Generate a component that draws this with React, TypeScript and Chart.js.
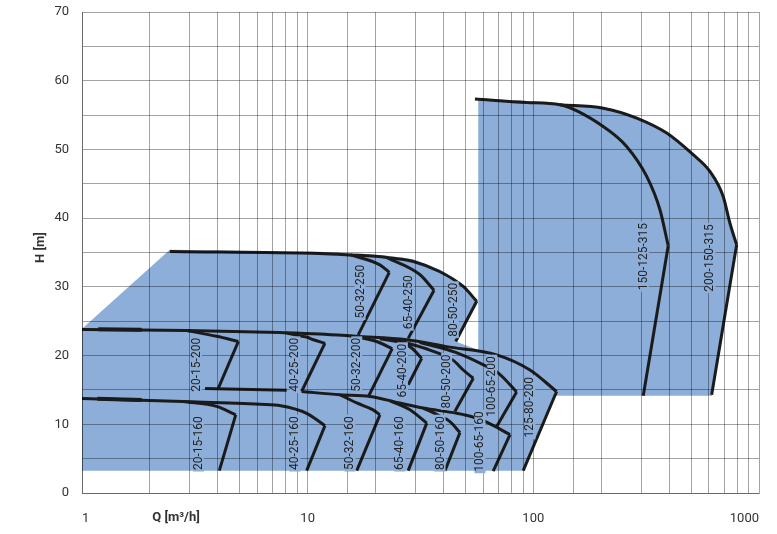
import React, { useEffect, useRef } from 'react';
import { Chart, registerables } from 'chart.js';

Chart.register(...registerables);

type Pt = [number, number];

// ---------- axis ticks ----------
const X_TICK_LABELS = [1, 10, 100, 1000];
const Y_TICK_LABELS = [0, 10, 20, 30, 40, 50, 60, 70];

// ---------- blue operating envelopes (Q m3/h, H m) ----------
const AREA_SMALL: Pt[] = [
  [1, 3.25], [1, 23.9], [2.45, 35.4], [11.3, 35.1], [17.6, 34.8], [23.2, 34.5],
  [29.4, 34.0], [38.6, 32.5], [48.9, 30.35], [57, 27.9], [45.3, 22.05], [57, 20.8],
  [68.8, 20.3], [96.6, 18.1], [127.5, 14.8], [90.5, 3.25],
];
const AREA_LARGE: Pt[] = [
  [57, 14.15], [57, 57.4], [93.4, 57.0], [131, 56.7], [204, 56.2], [287, 54.8],
  [390, 52.6], [511, 49.4], [606, 47.0], [694, 43.3], [743, 39.4], [800, 36.1], [619, 14.15],
];

// ---------- 250 family ----------
const HEAD_80_50_250: Pt[] = [
  [2.45, 35.15], [11.3, 34.85], [15.5, 34.65], [20, 34.45], [23.2, 34.2], [29.4, 33.7],
  [38.6, 32.2], [48.9, 30.06], [56.1, 27.9],
];
const DROP_80_50_250: Pt[] = [[56.1, 27.9], [45.3, 22.05]];
const HEAD_50_32_250: Pt[] = [[15.5, 34.65], [20.9, 33.2], [23.0, 32.1]];
const DROP_50_32_250: Pt[] = [[23.0, 32.1], [16.75, 23.0]];
const HEAD_65_40_250: Pt[] = [[22.5, 34.25], [31.4, 31.8], [36.3, 29.5]];
const DROP_65_40_250: Pt[] = [[36.3, 29.5], [27.9, 22.5]];

// ---------- 200 family ----------
const HEAD_125_80_200: Pt[] = [
  [1, 23.8], [2.91, 23.65], [7.5, 23.35], [11.3, 23.15], [16.5, 22.8], [27.5, 22.3],
  [41.3, 21.3], [68.8, 20.1], [96.6, 17.9], [126.8, 14.77],
];
const DROP_125_80_200: Pt[] = [[126.8, 14.77], [90.2, 3.25]];
const HEAD_20_15_200: Pt[] = [[2.91, 23.65], [3.95, 22.8], [4.93, 22.05]];
const DROP_20_15_200: Pt[] = [[4.93, 22.05], [4.02, 15.27]];
const BASE_200: Pt[] = [[3.51, 15.2], [8.07, 14.95]];
const HEAD_40_25_200: Pt[] = [[8.0, 23.3], [8.8, 23.0], [9.9, 22.7], [10.6, 22.3], [11.93, 21.8]];
const DROP_40_25_200: Pt[] = [[11.93, 21.8], [9.4, 14.77]];
const HEAD_50_32_200: Pt[] = [[15.5, 22.85], [20.2, 22.05], [23.7, 21.0]];
const DROP_50_32_200: Pt[] = [[23.7, 21.0], [18.7, 14.2]];
const HEAD_65_40_200: Pt[] = [[20.9, 22.45], [26.5, 21.8], [28.9, 21.1], [32.0, 19.6]];
const DROP_65_40_200: Pt[] = [[32.0, 19.6], [27.9, 15.75]];
const HEAD_80_50_200: Pt[] = [[24.4, 22.3], [34.8, 20.8], [44.2, 19.3], [48.9, 17.9], [54.2, 16.7]];
const DROP_80_50_200: Pt[] = [[54.2, 16.7], [44.9, 11.86]];
const HEAD_100_65_200: Pt[] = [[31.4, 21.9], [45, 20.5], [58, 18.9], [70, 17.45], [84.3, 14.7]];
const DROP_100_65_200: Pt[] = [[84.3, 14.7], [68.8, 9.68]];

// ---------- 160 family ----------
const HEAD_40_25_160: Pt[] = [[1, 13.75], [2.81, 13.3], [6.15, 12.9], [7.6, 12.7], [9.9, 11.6], [11.93, 9.8]];
const DROP_40_25_160: Pt[] = [[11.93, 9.8], [9.9, 3.25]];
const HEAD_20_15_160: Pt[] = [[2.81, 13.3], [3.95, 12.6], [4.8, 11.38]];
const DROP_20_15_160: Pt[] = [[4.8, 11.38], [4.06, 3.25]];
const HEAD_100_65_160: Pt[] = [
  [9.4, 14.77], [13.9, 14.3], [18.9, 14.05], [25.6, 13.1], [32.5, 12.36], [45.7, 11.6],
  [53.5, 11.1], [62.1, 10.3], [78.8, 8.5],
];
const DROP_100_65_160: Pt[] = [[78.8, 8.5], [66.4, 3.2]];
const HEAD_50_32_160: Pt[] = [[13.9, 14.3], [16.5, 13.1], [19.5, 12.1], [20.9, 11.38]];
const DROP_50_32_160: Pt[] = [[20.9, 11.38], [16.5, 3.25]];
const HEAD_65_40_160: Pt[] = [[23.2, 13.4], [28.4, 12.12], [33.7, 10.17]];
const DROP_65_40_160: Pt[] = [[33.7, 10.17], [27.9, 3.25]];
const HEAD_80_50_160: Pt[] = [[32.5, 12.36], [38, 11.3], [42.7, 10.4], [47.3, 8.8]];
const DROP_80_50_160: Pt[] = [[47.3, 8.8], [40.6, 3.25]];

// ---------- 315 family ----------
const HEAD_150_125_315: Pt[] = [
  [55.1, 57.34], [93.4, 56.84], [131.2, 56.5], [204, 53.35], [259, 50.44], [318, 46.07],
  [364, 41.22], [396, 35.98],
];
const DROP_150_125_315: Pt[] = [[396, 35.98], [307, 14.15]];
const HEAD_200_150_315: Pt[] = [
  [131.2, 56.5], [204, 56.0], [287, 54.57], [390, 52.39], [511, 49.23], [606, 46.8],
  [694, 43.16], [743, 39.29], [796, 36.13],
];
const DROP_200_150_315: Pt[] = [[796, 36.13], [617, 14.3]];

// overlapping (slightly thicker) start segments
const THICK_200: Pt[] = [[1.18, 23.82], [1.84, 23.76]];
const THICK_160: Pt[] = [[1.17, 13.72], [1.84, 13.55]];

// ---------- pump labels ----------
const PUMP_NAMES = [
  '20-15-200', '40-25-200', '20-15-160', '40-25-160', '50-32-250', '65-40-250', '80-50-250',
  '50-32-200', '65-40-200', '80-50-200', '100-65-200', '125-80-200', '50-32-160', '65-40-160',
  '80-50-160', '100-65-160', '150-125-315', '200-150-315',
];
const PUMP_LABEL_Q = [3.22, 8.78, 3.28, 8.78, 17.06, 27.9, 44.2, 16.5, 26.3, 41.3, 65.4, 96.6, 15.4, 25.6, 38.6, 58.0, 307, 606];
const PUMP_LABEL_H = [18.66, 18.66, 7.26, 7.26, 29.3, 27.76, 26.67, 18.66, 17.8, 16.23, 15.5, 12.47, 7.26, 7.26, 7.26, 7.5, 34.4, 34.2];

const FILL = '#8DAED8';
const INK = '#1b1b1b';
const GRID = 'rgba(0,0,0,0.36)';
const TEXT = '#333333';

const CURVES: Pt[][] = [
  HEAD_80_50_250, HEAD_50_32_250, HEAD_65_40_250,
  HEAD_125_80_200, HEAD_20_15_200, HEAD_40_25_200, HEAD_50_32_200, HEAD_65_40_200, HEAD_80_50_200, HEAD_100_65_200,
  HEAD_40_25_160, HEAD_20_15_160, HEAD_100_65_160, HEAD_50_32_160, HEAD_65_40_160, HEAD_80_50_160,
  HEAD_150_125_315, HEAD_200_150_315,
];
const STRAIGHTS: Pt[][] = [
  DROP_80_50_250, DROP_50_32_250, DROP_65_40_250,
  DROP_125_80_200, DROP_20_15_200, BASE_200, DROP_40_25_200, DROP_50_32_200, DROP_65_40_200, DROP_80_50_200, DROP_100_65_200,
  DROP_40_25_160, DROP_20_15_160, DROP_100_65_160, DROP_50_32_160, DROP_65_40_160, DROP_80_50_160,
  DROP_150_125_315, DROP_200_150_315,
];

const toXY = (pts: Pt[]) => pts.map(([x, y]) => ({ x, y }));

const overlay = {
  id: 'overlay',
  afterDraw(chart: any) {
    const { ctx, chartArea } = chart;
    const xs = chart.scales.x;
    const ys = chart.scales.y;
    ctx.save();
    ctx.font = '12px Roboto';
    ctx.textAlign = 'center';
    ctx.textBaseline = 'middle';
    PUMP_NAMES.forEach((name, i) => {
      const px = xs.getPixelForValue(PUMP_LABEL_Q[i]);
      const py = ys.getPixelForValue(PUMP_LABEL_H[i]);
      const w = ctx.measureText(name).width;
      ctx.save();
      ctx.translate(px, py);
      ctx.rotate(-Math.PI / 2);
      ctx.fillStyle = FILL;
      ctx.fillRect(-w / 2 - 1.5, -5.5, w + 3, 11);
      ctx.fillStyle = '#222';
      ctx.fillText(name, 0, 0.5);
      ctx.restore();
    });
    ctx.font = 'bold 13px Roboto';
    ctx.fillStyle = TEXT;
    ctx.fillText('Q [m³/h]', chartArea.left + 94, chartArea.bottom + 25);
    ctx.save();
    ctx.translate(41, (chartArea.top + chartArea.bottom) / 2 - 5);
    ctx.rotate(-Math.PI / 2);
    ctx.fillText('H [m]', 0, 0);
    ctx.restore();
    ctx.restore();
  },
};

export default function App() {
  const ref = useRef<HTMLCanvasElement>(null);
  useEffect(() => {
    document.body.style.margin = '0';
    Chart.defaults.font.family = 'Roboto';
    const areas = [AREA_SMALL, AREA_LARGE].map((pts) => ({
      type: 'line',
      data: toXY(pts),
      borderWidth: 0,
      borderColor: 'rgba(0,0,0,0)',
      backgroundColor: FILL,
      fill: 'shape',
      pointRadius: 0,
      tension: 0,
    }));
    const curves = CURVES.map((pts) => ({
      type: 'line',
      data: toXY(pts),
      borderColor: INK,
      borderWidth: 3,
      pointRadius: 0,
      fill: false,
      cubicInterpolationMode: 'monotone',
      borderJoinStyle: 'round',
    }));
    const straights = STRAIGHTS.map((pts) => ({
      type: 'line',
      data: toXY(pts),
      borderColor: INK,
      borderWidth: 3,
      pointRadius: 0,
      fill: false,
      tension: 0,
    }));
    const thick = [THICK_200, THICK_160].map((pts) => ({
      type: 'line',
      data: toXY(pts),
      borderColor: INK,
      borderWidth: 4,
      pointRadius: 0,
      fill: false,
      tension: 0,
    }));
    const chart = new Chart(ref.current!, {
      type: 'line',
      data: { datasets: [...curves, ...straights, ...thick, ...areas] as any },
      options: {
        animation: false,
        responsive: false,
        events: [],
        layout: { padding: { top: 12, right: 18, left: 0, bottom: 0 } },
        plugins: {
          legend: { display: false },
          tooltip: { enabled: false },
          filler: { drawTime: 'beforeDatasetsDraw' },
        } as any,
        scales: {
          x: {
            type: 'logarithmic',
            min: 1,
            max: 1000,
            grid: { color: GRID, lineWidth: 1, drawTicks: false, z: 1 },
            border: { color: GRID, z: 1 },
            afterFit: (s: any) => {
              s.height = 41;
              s.paddingLeft = 0;
              s.paddingRight = 0;
            },
            ticks: {
              autoSkip: false,
              maxRotation: 0,
              align: 'inner',
              padding: 18,
              color: TEXT,
              font: { size: 13 },
              callback: (v: any) => (X_TICK_LABELS.includes(Number(v)) ? String(v) : ''),
            },
          },
          y: {
            type: 'linear',
            min: 0,
            max: 70,
            grid: { color: GRID, lineWidth: 1, drawTicks: false, z: 1 },
            border: { color: GRID, z: 1 },
            afterFit: (s: any) => {
              s.width = 82;
              s.paddingTop = 0;
              s.paddingBottom = 0;
            },
            ticks: {
              stepSize: 5,
              padding: 13,
              color: TEXT,
              font: { size: 13 },
              callback: (v: any) => (Y_TICK_LABELS.includes(Number(v)) ? String(v) : ''),
            },
          },
        },
      } as any,
      plugins: [overlay],
    });
    return () => chart.destroy();
  }, []);
  return (
    <div style={{ width: 777, height: 534 }}>
      <canvas ref={ref} width={777} height={534} style={{ display: 'block' }} />
    </div>
  );
}
